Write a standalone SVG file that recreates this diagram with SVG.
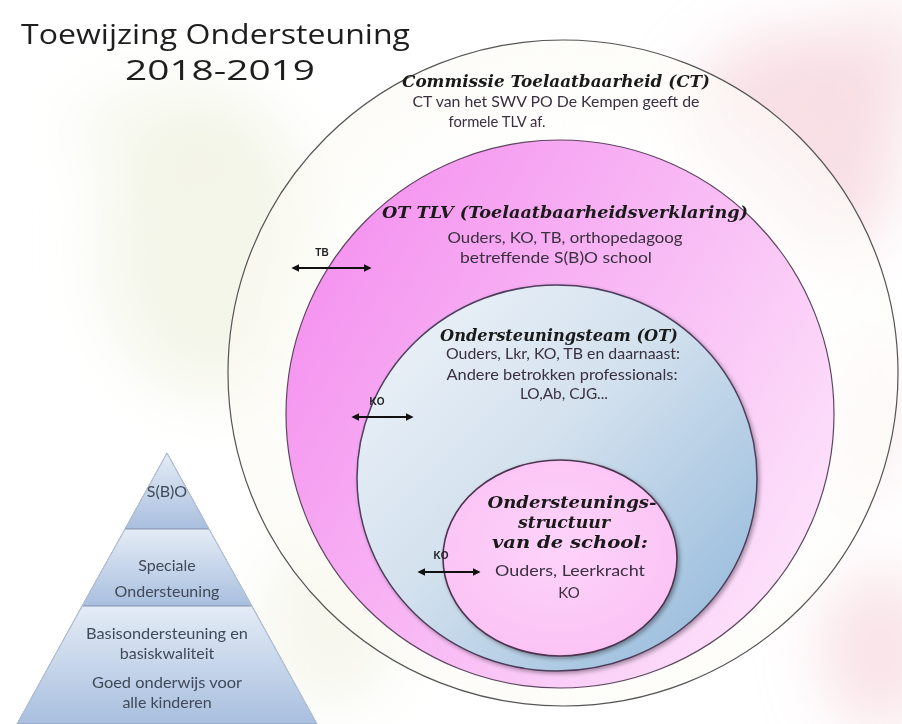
<svg xmlns="http://www.w3.org/2000/svg" width="902" height="724" viewBox="0 0 902 724">
<defs>
<style>
.script{font-family:"DejaVu Serif","Liberation Serif",serif;font-style:italic;font-weight:bold;fill:#1a1a1a;text-anchor:middle}
.body{font-family:Lato,"Open Sans","Liberation Sans",sans-serif;fill:#3a3040;text-anchor:middle}
.pyr{font-family:Lato,"Open Sans","Liberation Sans",sans-serif;fill:#404a58;text-anchor:middle}
.title{font-family:"Open Sans","DejaVu Sans",sans-serif;fill:#1e1e1e;font-size:28px}
.lbl{font-family:"Liberation Sans",Arial,sans-serif;font-weight:bold;font-size:10px;fill:#222;text-anchor:middle}
.arrow{stroke:#111;stroke-width:2;fill:none;marker-start:url(#ah);marker-end:url(#ah)}
.sect{stroke:#8a9cb8;stroke-width:1}
</style>
<marker id="ah" viewBox="0 0 10 10" refX="8" refY="5" markerWidth="4" markerHeight="4" orient="auto-start-reverse">
<path d="M0,0 L10,5 L0,10 z" fill="#111"/>
</marker>
<filter id="blur" x="-50%" y="-50%" width="200%" height="200%"><feGaussianBlur stdDeviation="30"/></filter>
<filter id="sh" x="-10%" y="-10%" width="120%" height="120%"><feGaussianBlur in="SourceAlpha" stdDeviation="2"/><feOffset dx="2" dy="2"/><feComponentTransfer><feFuncA type="linear" slope="0.35"/></feComponentTransfer><feMerge><feMergeNode/><feMergeNode in="SourceGraphic"/></feMerge></filter>
<linearGradient id="gTLV" x1="0" y1="0.2" x2="1" y2="0.8">
<stop offset="0" stop-color="#f48fef"/><stop offset="0.45" stop-color="#f8b6f4"/><stop offset="1" stop-color="#fde6fb"/>
</linearGradient>
<linearGradient id="gOT" x1="0.1" y1="0.1" x2="0.9" y2="0.85">
<stop offset="0" stop-color="#eaf0f7"/><stop offset="0.45" stop-color="#d3e1ee"/><stop offset="1" stop-color="#9dbfde"/>
</linearGradient>
<radialGradient id="gSchool" cx="0.5" cy="0.45" r="0.6">
<stop offset="0" stop-color="#fdd3fa"/><stop offset="1" stop-color="#fbc2f4"/>
</radialGradient>
<radialGradient id="gCT" cx="0.55" cy="0.5" r="0.55">
<stop offset="0.6" stop-color="#ffffff" stop-opacity="0.85"/><stop offset="1" stop-color="#fbfaf2" stop-opacity="0.55"/>
</radialGradient>
<linearGradient id="gP" x1="0" y1="0" x2="0" y2="1">
<stop offset="0" stop-color="#e4ecf6"/><stop offset="1" stop-color="#a9bfdf"/>
</linearGradient>
</defs>

<rect width="902" height="724" fill="#ffffff"/>
<g id="background" filter="url(#blur)">
<ellipse cx="210" cy="250" rx="110" ry="150" fill="#eef0dc" opacity="0.6"/>
<ellipse cx="170" cy="130" rx="100" ry="50" fill="#f2f3e4" opacity="0.5"/>
<ellipse cx="790" cy="150" rx="110" ry="120" fill="#f3ccd6" opacity="0.6"/>
<ellipse cx="880" cy="60" rx="60" ry="60" fill="#f6d6dc" opacity="0.5"/>
<ellipse cx="880" cy="650" rx="60" ry="80" fill="#f5d0d8" opacity="0.6"/>
<ellipse cx="860" cy="420" rx="40" ry="80" fill="#f6dadf" opacity="0.5"/>
<ellipse cx="330" cy="620" rx="70" ry="90" fill="#f1f2e2" opacity="0.6"/>
</g>

<g id="title">
<text class="title" x="21" y="44" textLength="389" lengthAdjust="spacingAndGlyphs">Toewijzing Ondersteuning</text>
<text class="title" x="125" y="80" textLength="190" lengthAdjust="spacingAndGlyphs">2018-2019</text>
</g>

<g id="ct">
<ellipse cx="563" cy="373" rx="335" ry="333" fill="url(#gCT)" stroke="#555" stroke-width="1.2"/>
<text class="script" x="556" y="87" font-size="16" textLength="308" lengthAdjust="spacingAndGlyphs">Commissie Toelaatbaarheid (CT)</text>
<text class="body" x="556" y="107" font-size="15" textLength="287" lengthAdjust="spacingAndGlyphs">CT van het SWV PO De Kempen geeft de</text>
<text class="body" x="497" y="127" font-size="15" textLength="97" lengthAdjust="spacingAndGlyphs">formele TLV af.</text>
</g>

<g id="tlv">
<circle cx="560" cy="414" r="274" fill="url(#gTLV)" stroke="#5e4560" stroke-width="1.2"/>
<text class="script" x="565" y="218" font-size="16" textLength="366" lengthAdjust="spacingAndGlyphs">OT TLV (Toelaatbaarheidsverklaring)</text>
<text class="body" x="565" y="243" font-size="15" textLength="235" lengthAdjust="spacingAndGlyphs">Ouders, KO, TB, orthopedagoog</text>
<text class="body" x="556" y="263" font-size="15" textLength="192" lengthAdjust="spacingAndGlyphs">betreffende S(B)O school</text>
</g>

<g id="ot">
<ellipse cx="557" cy="478" rx="200" ry="193" fill="url(#gOT)" stroke="#4e3e5e" stroke-width="1.5" filter="url(#sh)"/>
<text class="script" x="559" y="341" font-size="16" textLength="238" lengthAdjust="spacingAndGlyphs">Ondersteuningsteam (OT)</text>
<text class="body" x="563" y="359" font-size="15" textLength="234" lengthAdjust="spacingAndGlyphs">Ouders, Lkr, KO, TB en daarnaast:</text>
<text class="body" x="562" y="380" font-size="15" textLength="231" lengthAdjust="spacingAndGlyphs">Andere betrokken professionals:</text>
<text class="body" x="564" y="399" font-size="15" textLength="88" lengthAdjust="spacingAndGlyphs">LO,Ab, CJG...</text>
</g>

<g id="school">
<ellipse cx="560" cy="558" rx="117" ry="98" fill="url(#gSchool)" stroke="#4e3450" stroke-width="1.6" filter="url(#sh)"/>
<text class="script" x="572" y="508" font-size="16" textLength="169" lengthAdjust="spacingAndGlyphs">Ondersteunings-</text>
<text class="script" x="564" y="528" font-size="16" textLength="92" lengthAdjust="spacingAndGlyphs">structuur</text>
<text class="script" x="570" y="548" font-size="16" textLength="156" lengthAdjust="spacingAndGlyphs">van de school:</text>
<text class="body" x="570" y="576" font-size="15" textLength="150" lengthAdjust="spacingAndGlyphs">Ouders, Leerkracht</text>
<text class="body" x="569" y="598" font-size="15">KO</text>
</g>

<g id="connectors">
<line class="arrow" x1="293" y1="268" x2="370" y2="268"/>
<text class="lbl" x="322" y="256">TB</text>
<line class="arrow" x1="353" y1="417" x2="412" y2="417"/>
<text class="lbl" x="377" y="405">KO</text>
<line class="arrow" x1="419" y1="572" x2="479" y2="572"/>
<text class="lbl" x="441" y="559">KO</text>
</g>

<g id="pyramid">
<polygon points="167,453 209,529 125,529" fill="url(#gP)" class="sect"/>
<polygon points="125,529 209,529 252,606 82,606" fill="url(#gP)" class="sect"/>
<polygon points="82,606 252,606 317,724 17,724" fill="url(#gP)" class="sect"/>
<polyline points="17,724 167,453 317,724" fill="none" stroke="#b8c4d6" stroke-width="1"/>
<text class="pyr" x="167" y="497" font-size="16">S(B)O</text>
<text class="pyr" x="167" y="571" font-size="16">Speciale</text>
<text class="pyr" x="167" y="597" font-size="16">Ondersteuning</text>
<text class="pyr" x="167" y="639" font-size="16" textLength="162" lengthAdjust="spacingAndGlyphs">Basisondersteuning en</text>
<text class="pyr" x="167" y="659" font-size="16">basiskwaliteit</text>
<text class="pyr" x="167" y="688" font-size="16" textLength="150" lengthAdjust="spacingAndGlyphs">Goed onderwijs voor</text>
<text class="pyr" x="167" y="708" font-size="16">alle kinderen</text>
</g>
</svg>
